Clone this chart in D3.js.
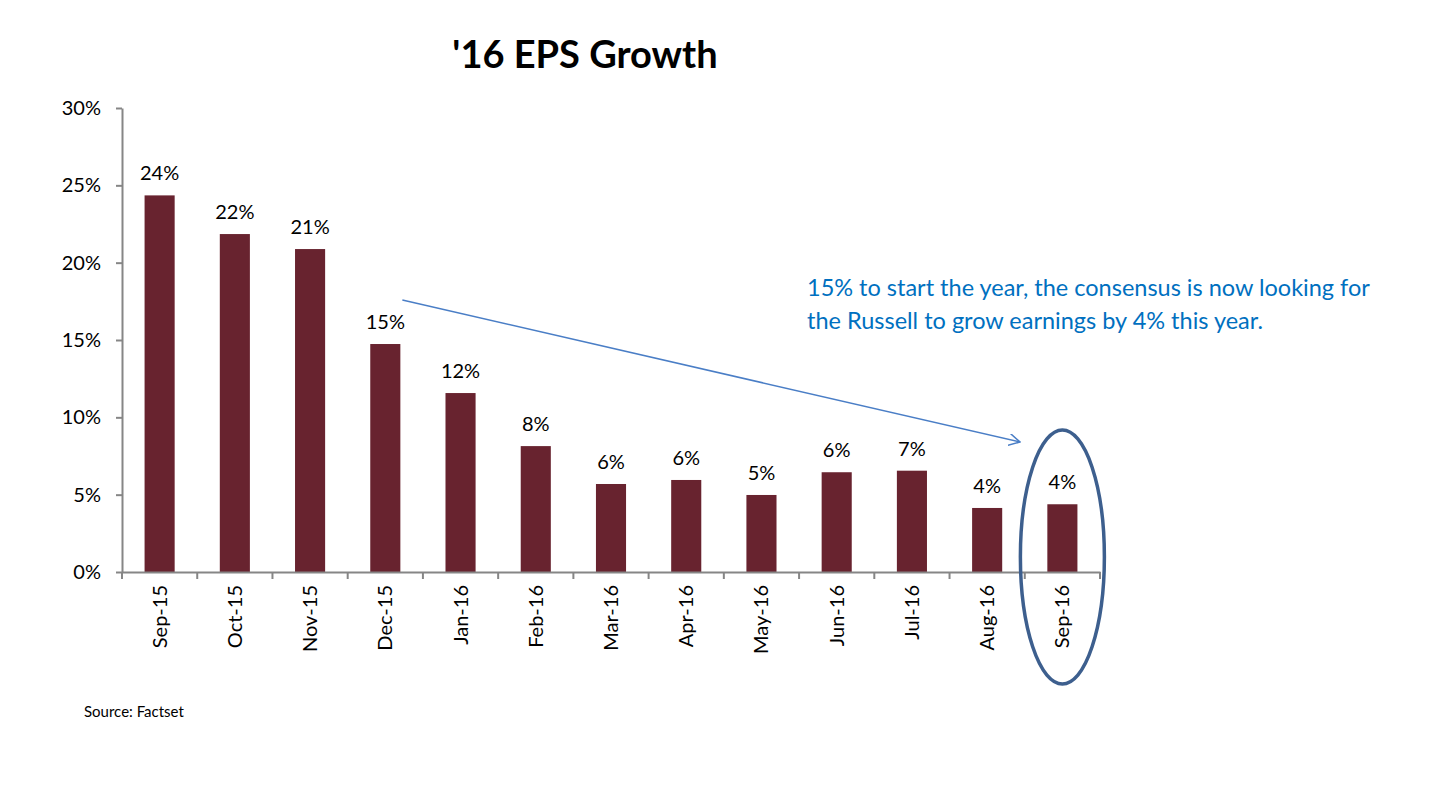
<!DOCTYPE html>
<html><head><meta charset="utf-8">
<script src="https://cdn.jsdelivr.net/npm/d3@7"></script>
<style>body{margin:0;background:#fff}svg{display:block}text{font-family:Lato,"Open Sans",sans-serif}</style>
</head><body>
<svg id="c" width="1434" height="786"></svg>
<script>
const categories = ["Sep-15","Oct-15","Nov-15","Dec-15","Jan-16","Feb-16","Mar-16","Apr-16","May-16","Jun-16","Jul-16","Aug-16","Sep-16"];
const values = [24.35,21.85,20.88,14.74,11.57,8.14,5.69,5.95,4.98,6.45,6.55,4.14,4.38];
const yTicks = [0,5,10,15,20,25,30];
const title = "'16 EPS Growth";
const noteLines = ["15% to start the year, the consensus is now looking for","the Russell to grow earnings by 4% this year."];
const source = "Source: Factset";

const svg = d3.select("#c");
const L = 122, R = 1100, T = 108, B = 572;
const x = d3.scaleBand().domain(categories).range([L, R]).paddingInner(0.6).paddingOuter(0.3);
const y = d3.scaleLinear().domain([0, 30]).range([B, T]);
const F = "Lato,'Open Sans',sans-serif";

svg.append("text").attr("x", 585).attr("y", 68).attr("text-anchor", "middle")
  .attr("font-size", 38).attr("font-weight", "bold").attr("fill", "#000").text(title);

// bars
svg.append("g").selectAll("rect").data(values).join("rect")
  .attr("x", (d, i) => x(categories[i])).attr("width", x.bandwidth())
  .attr("y", d => y(d)).attr("height", d => B - y(d)).attr("fill", "#68232F");

// value labels
svg.append("g").selectAll("text").data(values).join("text")
  .attr("x", (d, i) => x(categories[i]) + x.bandwidth() / 2).attr("y", d => y(d) - 15)
  .attr("text-anchor", "middle").attr("font-size", 20).attr("fill", "#000")
  .text(d => Math.round(d) + "%");

// y axis
const yAxis = svg.append("g").attr("transform", `translate(${L},0)`)
  .call(d3.axisLeft(y).tickValues(yTicks).tickSize(6).tickSizeOuter(0).tickPadding(15).tickFormat(d => d + "%"));
yAxis.selectAll("line,path").attr("stroke", "#868686").attr("stroke-width", 2);
yAxis.selectAll("text").attr("font-size", 20).attr("fill", "#000").attr("font-family", F);

// x axis
const xAxis = svg.append("g").attr("transform", `translate(0,${B})`)
  .call(d3.axisBottom(x).tickSize(0).tickSizeOuter(0));
xAxis.select("path").attr("stroke", "#868686").attr("stroke-width", 2);
xAxis.selectAll("text").attr("font-size", 20).attr("fill", "#000").attr("font-family", F)
  .attr("transform", "rotate(-90)").attr("text-anchor", "end").attr("dx", "-13").attr("dy", "0.35em")
  .attr("x", 0).attr("y", 0);
// boundary tick marks between categories
const step = x.step();
const bounds = d3.range(categories.length + 1).map(i => L + i * step);
svg.append("g").selectAll("line").data(bounds).join("line")
  .attr("x1", d => d).attr("x2", d => d).attr("y1", B).attr("y2", B + 7)
  .attr("stroke", "#868686").attr("stroke-width", 2);

// arrow
const defs = svg.append("defs");
defs.append("marker").attr("id", "ah").attr("viewBox", "0 0 12 12").attr("refX", 11).attr("refY", 6)
  .attr("markerWidth", 12).attr("markerHeight", 12).attr("markerUnits", "userSpaceOnUse").attr("orient", "auto")
  .append("path").attr("d", "M0,0 L11,6 L0,12").attr("fill", "none").attr("stroke", "#4A7EC6").attr("stroke-width", 1.5);
const xs = x("Dec-15") + x.bandwidth() + 2, ys = y(15) - 40;
svg.append("line").attr("x1", xs).attr("y1", ys).attr("x2", 1020).attr("y2", 442)
  .attr("stroke", "#4A7EC6").attr("stroke-width", 1.5).attr("marker-end", "url(#ah)");

// ellipse
svg.append("ellipse").attr("cx", x("Sep-16") + x.bandwidth() / 2).attr("cy", 557).attr("rx", 42).attr("ry", 127)
  .attr("fill", "none").attr("stroke", "#3D5F8E").attr("stroke-width", 3.5);

// annotation
svg.append("g").selectAll("text").data(noteLines).join("text")
  .attr("x", 807).attr("y", (d, i) => 296 + i * 33).attr("font-size", 23.5).attr("fill", "#0070C0").text(d => d);

svg.append("text").attr("x", 84).attr("y", 717).attr("font-size", 15).attr("fill", "#000").text(source);
</script>
</body></html>
